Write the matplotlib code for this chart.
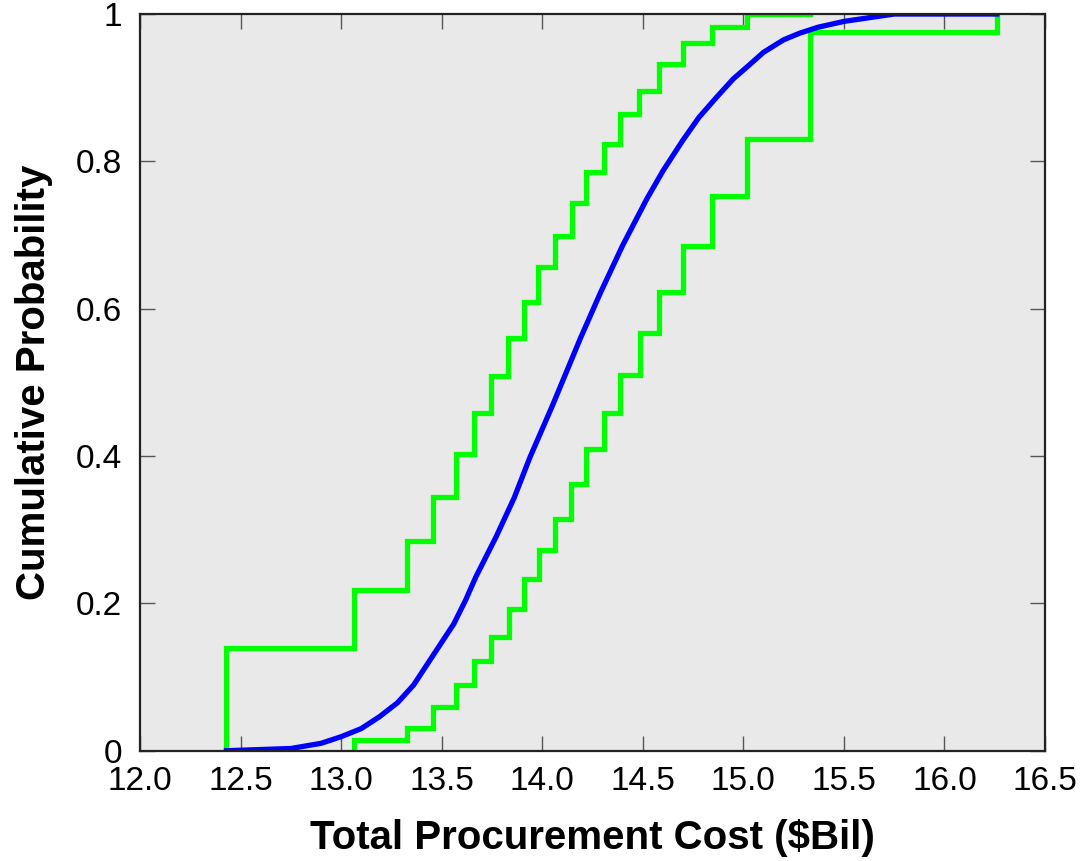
import matplotlib
matplotlib.use("Agg")
from matplotlib import rcParams
rcParams['font.family'] = ['Liberation Sans', 'DejaVu Sans']
import matplotlib.pyplot as plt

# blue: fitted cumulative distribution
cdf_cost = [12.43, 12.75, 12.90, 13.00, 13.10, 13.19, 13.28, 13.36, 13.49, 13.56,
            13.62, 13.67, 13.77, 13.86, 13.94, 14.05, 14.19, 14.29, 14.40, 14.52,
            14.60, 14.70, 14.78, 14.87, 14.95, 15.03, 15.10, 15.20, 15.28, 15.37,
            15.50, 15.75, 16.26]
cdf_prob = [0.0, 0.003, 0.010, 0.019, 0.030, 0.046, 0.065, 0.089, 0.143, 0.172,
            0.205, 0.236, 0.290, 0.343, 0.399, 0.468, 0.560, 0.622, 0.686, 0.749,
            0.787, 0.829, 0.860, 0.888, 0.912, 0.931, 0.948, 0.965, 0.974, 0.982,
            0.990, 1.0, 1.0]

# green: upper bound step
upper_x = [12.428, 12.428, 13.066, 13.326, 13.455, 13.571, 13.661, 13.745, 13.831, 13.909,
           13.980, 14.064, 14.147, 14.216, 14.307, 14.387, 14.483, 14.582, 14.702,
           14.843, 15.020, 15.332]
upper_y = [0.0, 0.140, 0.218, 0.284, 0.344, 0.403, 0.459, 0.509, 0.560, 0.609,
           0.657, 0.699, 0.743, 0.785, 0.824, 0.864, 0.896, 0.932, 0.961,
           0.983, 1.0, 1.0]

# green: lower bound step
lower_x = [13.066, 13.066, 13.326, 13.455, 13.571, 13.661, 13.745, 13.837, 13.909, 13.985,
           14.064, 14.144, 14.216, 14.306, 14.388, 14.486, 14.582, 14.702, 14.843,
           15.020, 15.332, 16.260, 16.260]
lower_y = [0.0, 0.0145, 0.031, 0.059, 0.089, 0.122, 0.155, 0.193, 0.233, 0.272,
           0.315, 0.362, 0.409, 0.459, 0.510, 0.567, 0.623, 0.685, 0.753,
           0.831, 0.975, 0.975, 1.0]

xticks = [12.0, 12.5, 13.0, 13.5, 14.0, 14.5, 15.0, 15.5, 16.0, 16.5]
yticks = [0, 0.2, 0.4, 0.6, 0.8, 1]
ytick_labels = ["0", "0.2", "0.4", "0.6", "0.8", "1"]

fig = plt.figure(figsize=(10.92, 8.61), dpi=100)
ax = fig.add_axes([0.1282, 0.1281, 0.957 - 0.1282, 0.9837 - 0.1281])
ax.set_facecolor("#e9e9e9")

ax.step(upper_x, upper_y, where="post", color="#00ff00", lw=3.8, solid_joinstyle="miter")
ax.step(lower_x, lower_y, where="post", color="#00ff00", lw=3.8, solid_joinstyle="miter")
ax.plot(cdf_cost, cdf_prob, color="#0000ff", lw=3.8)

ax.set_xlim(12.0, 16.5)
ax.set_ylim(0, 1)
ax.set_xticks(xticks)
ax.set_xticklabels(["%.1f" % t for t in xticks])
ax.set_yticks(yticks)
ax.set_yticklabels(ytick_labels)

ax.tick_params(direction="in", length=11, width=1, color="#555555",
               top=True, right=True, labelsize=24, pad=11)
ax.tick_params(axis="y", pad=13)
for s in ax.spines.values():
    s.set_linewidth(1.6)
    s.set_color("#222222")

ax.set_xlabel("Total Procurement Cost ($Bil)", fontsize=29, fontweight="bold", labelpad=16)
ax.set_ylabel("Cumulative Probability", fontsize=29, fontweight="bold", labelpad=16)

plt.savefig("out.png", dpi=100)
